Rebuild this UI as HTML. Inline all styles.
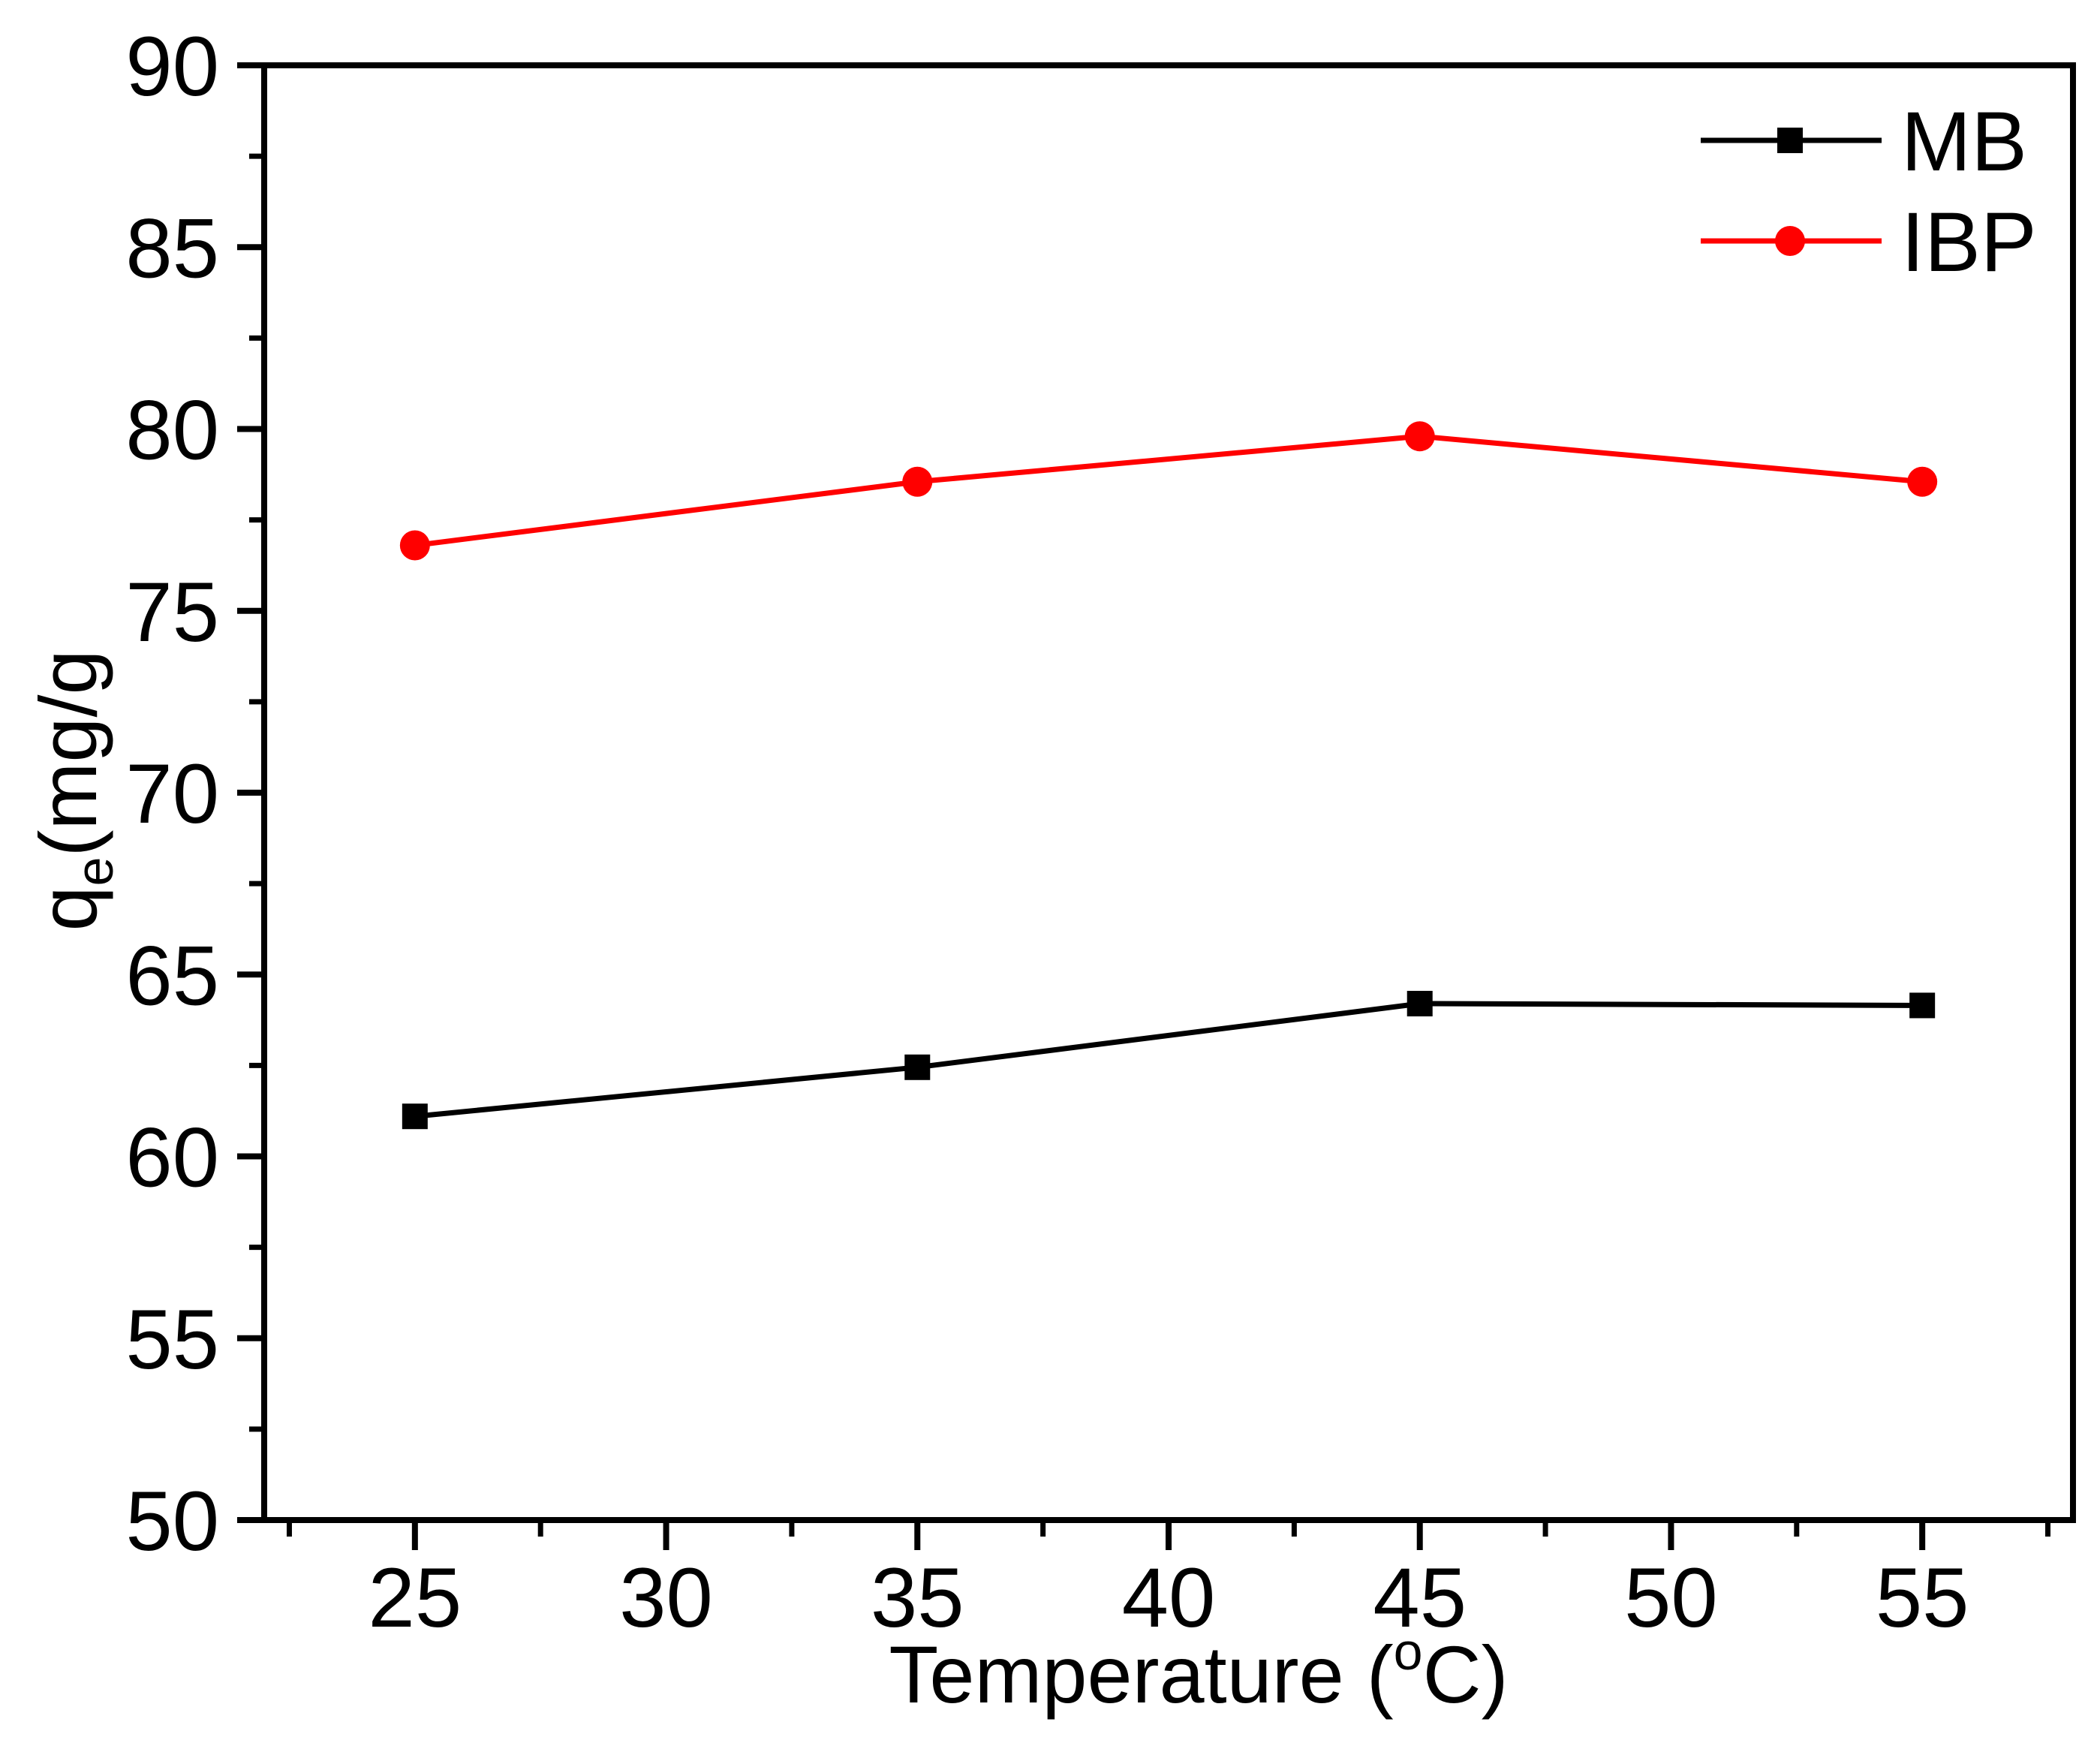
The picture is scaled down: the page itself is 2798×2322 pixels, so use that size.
<!DOCTYPE html>
<html><head><meta charset="utf-8"><style>
html,body{margin:0;padding:0;background:#fff;}
svg{display:block;font-family:"Liberation Sans",Arial,sans-serif;}
</style></head><body>
<svg id="chart" width="2798" height="2322" viewBox="0 0 2798 2322">
<g id="axes"></g>
<g id="series"></g>
<g id="legend">
  <line x1="2266" y1="187" x2="2507" y2="187" stroke="#000" stroke-width="7"/>
  <rect x="2368" y="170" width="34" height="34" fill="#000"/>
  <text x="2533" y="227" font-size="112">MB</text>
  <line x1="2266" y1="321" x2="2507" y2="321" stroke="#f00" stroke-width="7"/>
  <circle cx="2385" cy="321" r="20" fill="#f00"/>
  <text x="2533" y="361" font-size="112">IBP</text>
</g>
<text x="1597" y="2268" font-size="108" text-anchor="middle">Temperature (<tspan font-size="70" dy="-44">o</tspan><tspan dy="44">C)</tspan></text>
<text transform="translate(128,1053) rotate(-90)" font-size="108" text-anchor="middle">q<tspan font-size="70" dy="22">e</tspan><tspan dy="-22">(mg/g</tspan></text>
</svg>
<script>
const categories = [25, 35, 45, 55];
const mbValues = [61.1, 62.45, 64.2, 64.15];
const ibpValues = [76.8, 78.55, 79.8, 78.55];
const xTickLabels = [25, 30, 35, 40, 45, 50, 55];
const yTickLabels = [50, 55, 60, 65, 70, 75, 80, 85, 90];

const L=352,R=2762,T=87,B=2025;
const xMin=22,xMax=58,yMin=50,yMax=90;
const xs=v=>L+(v-xMin)/(xMax-xMin)*(R-L);
const ys=v=>B-(v-yMin)/(yMax-yMin)*(B-T);
const NS='http://www.w3.org/2000/svg';
function mk(tag,attrs,parent){const e=document.createElementNS(NS,tag);for(const k in attrs)e.setAttribute(k,attrs[k]);parent.appendChild(e);return e;}
const axes=document.getElementById('axes');
const series=document.getElementById('series');

const frame=mk('rect',{x:L,y:T,width:R-L,height:B-T,fill:'none',stroke:'#000','stroke-width':8},axes);



yTickLabels.forEach(v=>{
  const y=ys(v);
  const t=mk('line',{x1:L-36,y1:y,x2:L,y2:y,stroke:'#000','stroke-width':8},axes);
  
  
  const lb=mk('text',{x:292,y:y+40,'font-size':112,'text-anchor':'end'},axes);
  lb.textContent=v;
  
  
  if(v<yMax){
    const m=mk('line',{x1:L-20,y1:ys(v+2.5),x2:L,y2:ys(v+2.5),stroke:'#000','stroke-width':7},axes);
    
    
  }
});
xTickLabels.forEach(v=>{
  const x=xs(v);
  const t=mk('line',{x1:x,y1:B,x2:x,y2:B+40,stroke:'#000','stroke-width':8},axes);
  
  
  const lb=mk('text',{x:x,y:2167,'font-size':112,'text-anchor':'middle'},axes);
  lb.textContent=v;
  
  
});
[22.5,27.5,32.5,37.5,42.5,47.5,52.5,57.5].forEach(v=>{
  const m=mk('line',{x1:xs(v),y1:B,x2:xs(v),y2:B+22,stroke:'#000','stroke-width':7},axes);
  
  
});

function drawSeries(vals,color,kind,name){
  const pts=categories.map((c,i)=>xs(c)+','+ys(vals[i])).join(' ');
  const pl=mk('polyline',{points:pts,fill:'none',stroke:color,'stroke-width':7},series);
  
  
  categories.forEach((c,i)=>{
    let m;
    if(kind==='square') m=mk('rect',{x:xs(c)-17,y:ys(vals[i])-17,width:34,height:34,fill:color},series);
    else m=mk('circle',{cx:xs(c),cy:ys(vals[i]),r:20,fill:color},series);
    
    
  });
}
drawSeries(mbValues,'#000','square','mb');
drawSeries(ibpValues,'#f00','circle','ibp');
</script>
</body></html>
